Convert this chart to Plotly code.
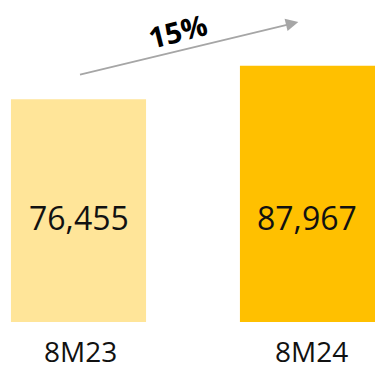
import plotly.graph_objects as go

categories = ["8M23", "8M24"]
values = [76455, 87967]
value_labels = ["76,455", "87,967"]
growth_label = "15%"
colors = ["#FFE599", "#FFC000"]

FONT = "Open Sans"
xs = list(range(len(categories)))
YMAX = 110500
LABEL_Y = 36000  # common height of the value labels

fig = go.Figure()
fig.add_trace(go.Bar(
    x=xs, y=values, width=0.59,
    marker=dict(color=colors, line=dict(width=0)),
    hoverinfo="skip",
))

for i, c in enumerate(categories):
    # value label inside bar
    fig.add_annotation(x=xs[i], y=LABEL_Y, xref="x", yref="y", text=value_labels[i],
                       showarrow=False, yanchor="middle",
                       font=dict(family=FONT, size=32, color="#111111"))
    # category label under bar
    fig.add_annotation(x=xs[i], y=0, xref="x", yref="y", text=c, showarrow=False,
                       yanchor="middle", yshift=-29, xshift=2 + 2 * i, borderpad=0,
                       font=dict(family=FONT, size=28, color="#111111"))

# growth arrow
fig.add_annotation(x=0.96, y=102950, ax=0.0, ay=84765, xref="x", yref="y",
                   axref="x", ayref="y", text="", showarrow=True,
                   arrowhead=2, arrowsize=1.4, arrowwidth=1.8, arrowcolor="#A6A6A6")
fig.add_annotation(x=0.434, y=100000, xref="x", yref="y", text="<b>" + growth_label + "</b>",
                   showarrow=False, textangle=-14,
                   font=dict(family=FONT, size=29, color="#000000", weight=800))

fig.update_layout(
    width=375, height=369, margin=dict(l=0, r=0, t=0, b=47),
    paper_bgcolor="white", plot_bgcolor="white", showlegend=False,
    xaxis=dict(range=[-0.3428, 1.2948], visible=False, fixedrange=True),
    yaxis=dict(range=[0, YMAX], visible=False, fixedrange=True),
)
fig.write_html("out.html")
